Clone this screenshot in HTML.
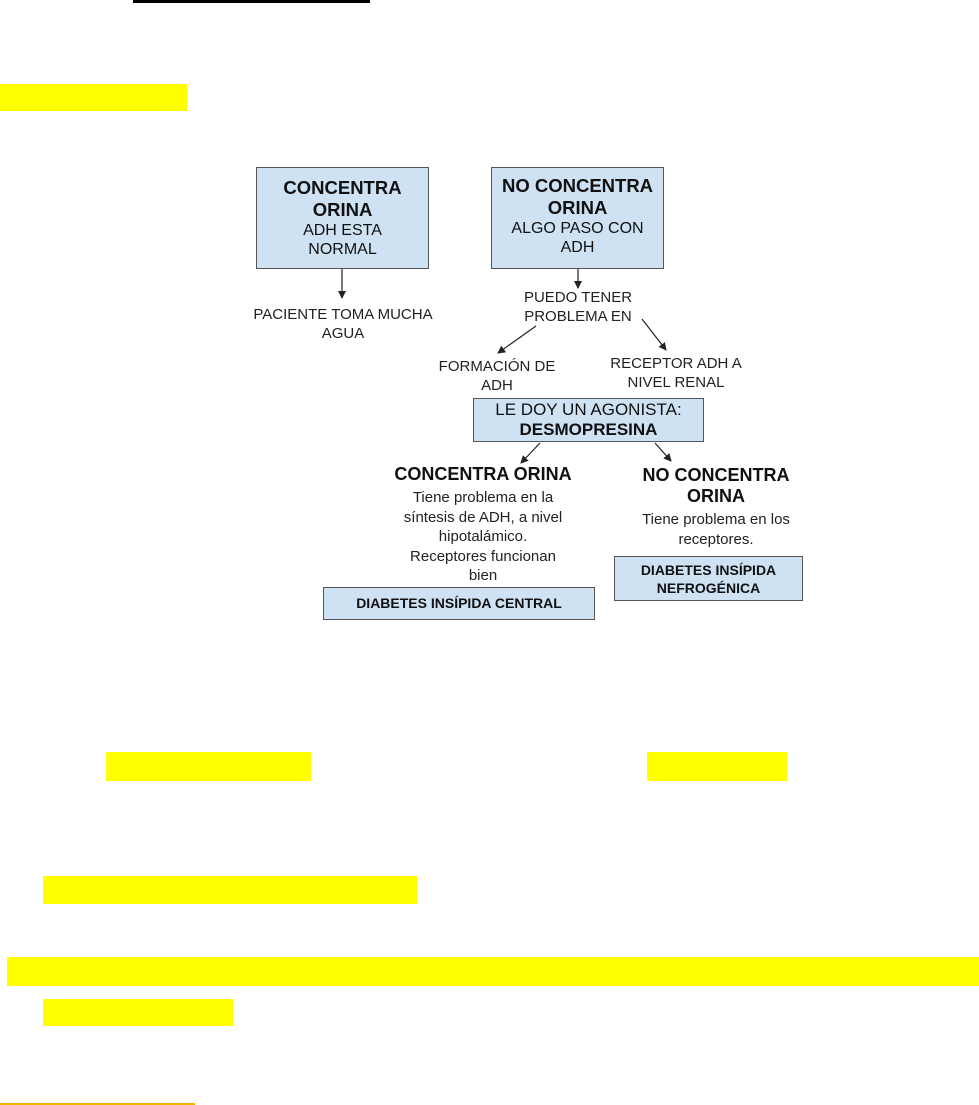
<!DOCTYPE html>
<html><head><meta charset="utf-8"><style>
body{margin:0;width:979px;height:1105px;position:relative;background:#fff;font-family:"Liberation Sans",Arial,sans-serif;overflow:hidden}
.a{position:absolute}
.y{position:absolute;background:#ffff00}
.box{position:absolute;background:#cfe2f3;border:1.5px solid #555;box-sizing:border-box;text-align:center;color:#111}
.t{position:absolute;text-align:center;color:#222;font-size:15px;line-height:19px}
b{font-weight:bold}
</style></head><body>
<div class="a" style="left:133px;top:0;width:237px;height:3px;background:#000"></div>
<div class="y" style="left:0;top:84px;width:187px;height:27px"></div>

<div class="box" style="left:256px;top:167px;width:173px;height:102px;padding-top:9px;font-size:16px;line-height:19px">
<b style="font-size:18.5px;line-height:22px">CONCENTRA<br>ORINA</b><br>ADH ESTA<br>NORMAL</div>
<div class="box" style="left:491px;top:167px;width:173px;height:102px;padding-top:7px;font-size:16px;line-height:19px">
<b style="font-size:18.5px;line-height:22px">NO CONCENTRA<br>ORINA</b><br>ALGO PASO CON<br>ADH</div>

<div class="t" style="left:233px;top:305px;width:220px">PACIENTE TOMA MUCHA<br>AGUA</div>
<div class="t" style="left:478px;top:288px;width:200px">PUEDO TENER<br>PROBLEMA EN</div>
<div class="t" style="left:407px;top:357px;width:180px">FORMACIÓN DE<br>ADH</div>
<div class="t" style="left:586px;top:354px;width:180px">RECEPTOR ADH A<br>NIVEL RENAL</div>

<div class="box" style="left:473px;top:398px;width:231px;height:44px;font-size:17px;line-height:20px;padding-top:1px">LE DOY UN AGONISTA:<br><b>DESMOPRESINA</b></div>

<div class="t" style="left:353px;top:463px;width:260px;font-size:18px;line-height:22px;color:#111"><b>CONCENTRA ORINA</b></div>
<div class="t" style="left:373px;top:488px;width:220px;line-height:19.5px">Tiene problema en la<br>síntesis de ADH, a nivel<br>hipotalámico.<br>Receptores funcionan<br>bien</div>
<div class="t" style="left:606px;top:465px;width:220px;font-size:18px;line-height:21px;color:#111"><b>NO CONCENTRA<br>ORINA</b></div>
<div class="t" style="left:606px;top:510px;width:220px;line-height:20px">Tiene problema en los<br>receptores.</div>

<div class="box" style="left:323px;top:587px;width:272px;height:33px;font-size:14px;line-height:30px"><b>DIABETES INSÍPIDA CENTRAL</b></div>
<div class="box" style="left:614px;top:556px;width:189px;height:45px;font-size:14px;line-height:18px;padding-top:4px"><b>DIABETES INSÍPIDA<br>NEFROGÉNICA</b></div>

<svg class="a" style="left:0;top:0" width="979" height="700">
<defs><marker id="m" markerWidth="8" markerHeight="8" refX="7" refY="4" orient="auto" markerUnits="userSpaceOnUse"><path d="M0,0 L8,4 L0,8 z" fill="#222"/></marker></defs>
<g stroke="#222" stroke-width="1.2" fill="none" marker-end="url(#m)">
<line x1="342" y1="269" x2="342" y2="298"/>
<line x1="578" y1="269" x2="578" y2="288"/>
<line x1="536" y1="326" x2="498" y2="353"/>
<line x1="642" y1="319" x2="666" y2="350"/>
<line x1="540" y1="443" x2="521" y2="463"/>
<line x1="655" y1="443" x2="671" y2="461"/>
</g></svg>

<div class="y" style="left:106px;top:752px;width:205px;height:29px"></div>
<div class="y" style="left:647px;top:752px;width:140px;height:29px"></div>
<div class="y" style="left:43px;top:876px;width:374px;height:28px"></div>
<div class="y" style="left:7px;top:957px;width:972px;height:29px"></div>
<div class="y" style="left:43px;top:999px;width:190px;height:27px"></div>
<div class="a" style="left:0;top:1103px;width:195px;height:2px;background:#f4b400"></div>
</body></html>
